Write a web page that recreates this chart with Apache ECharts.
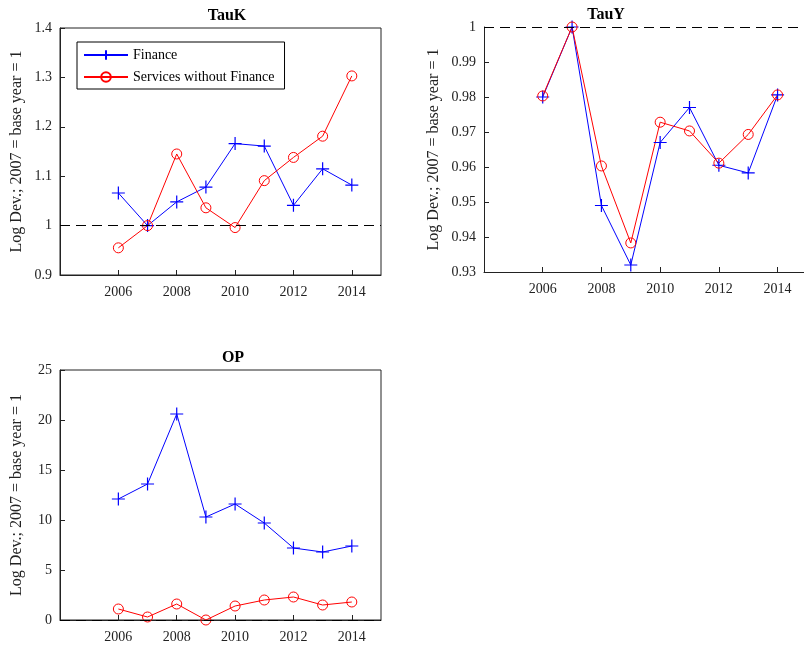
<!DOCTYPE html>
<html>
<head>
<meta charset="utf-8">
<script src="https://cdn.jsdelivr.net/npm/echarts@6/dist/echarts.min.js"></script>
<style>html,body{margin:0;padding:0;background:#fff}#chart{width:804px;height:648px}</style>
</head>
<body>
<div id="chart"></div>
<script>
var years = [2006, 2007, 2008, 2009, 2010, 2011, 2012, 2013, 2014];
// TauK
var taukFinance = [1.066, 1.0, 1.048, 1.078, 1.166, 1.161, 1.041, 1.115, 1.082];
var taukServices = [0.955, 1.0, 1.145, 1.036, 0.996, 1.091, 1.138, 1.181, 1.303];
// TauY
var tauyFinance = [0.980, 1.0, 0.949, 0.932, 0.967, 0.977, 0.9605, 0.9583, 0.9806];
var tauyServices = [0.9803, 1.0, 0.9603, 0.9383, 0.9728, 0.9703, 0.9611, 0.9693, 0.9806];
// OP
var opFinance = [12.1, 13.6, 20.6, 10.3, 11.6, 9.7, 7.2, 6.8, 7.4];
var opServices = [1.1, 0.3, 1.6, 0.0, 1.4, 2.0, 2.3, 1.5, 1.8];

var plusSym = 'path://M0,-1L0,1M-1,0L1,0';
var font = 'Liberation Serif';
var ylabel = 'Log Dev.; 2007 = base year = 1';

function pairs(v) {
    return years.map(function(y, i) { return [y, v[i]]; });
}

var grids = [
    {left: 60, top: 28, width: 321, height: 247, xmax: 2015, border: true},
    {left: 484, top: 27, width: 322, height: 245, xmax: 2014.9, border: false},
    {left: 60, top: 370, width: 321, height: 250, xmax: 2015, border: true}
];
var yRanges = [[0.9, 1.4, 0.1], [0.93, 1, 0.01], [0, 25, 5]];
var titles = ['TauK', 'TauY', 'OP'];
var titleX = [222, 601, 228];
var baseLines = [1, 1, 0];
var data = [[taukFinance, taukServices], [tauyFinance, tauyServices], [opFinance, opServices]];

var option = {
    animation: false,
    textStyle: {fontFamily: font},
    title: grids.map(function(g, i) {
        return {text: titles[i], left: titleX[i], top: g.top - 25, textAlign: 'center',
            textStyle: {fontFamily: font, fontSize: 16, fontWeight: 'bold', color: '#000'}};
    }),
    legend: {
        left: 77, top: 42, orient: 'vertical', itemGap: 8, itemWidth: 44, itemHeight: 12,
        backgroundColor: '#fff', borderColor: '#000', borderWidth: 1, padding: [6, 10, 5, 6],
        textStyle: {fontFamily: font, fontSize: 14, color: '#000'},
        data: ['Finance', 'Services without Finance']
    },
    grid: grids.map(function(g) {
        return {left: g.left, top: g.top, width: g.width, height: g.height, show: g.border, borderColor: '#222', borderWidth: 1};
    }),
    xAxis: grids.map(function(g, i) {
        return {type: 'value', gridIndex: i, min: 2004, max: g.xmax, interval: 2,
            axisLine: {lineStyle: {color: '#222'}},
            axisTick: {inside: true, length: 5, lineStyle: {color: '#222'}},
            splitLine: {show: false},
            axisLabel: {fontFamily: font, fontSize: 14, color: '#222', margin: 10, showMaxLabel: false,
                formatter: function(v) { return (v >= 2006 && v <= 2014 && v % 2 == 0) ? v : ''; }}};
    }),
    yAxis: grids.map(function(g, i) {
        var r = yRanges[i];
        return {type: 'value', gridIndex: i, min: r[0], max: r[1], interval: r[2],
            name: ylabel, nameLocation: 'middle', nameGap: i == 1 ? 42 : 35,
            nameTextStyle: {fontFamily: font, fontSize: 16, color: '#222'},
            axisLine: {show: true, lineStyle: {color: '#222'}},
            axisTick: {show: true, inside: true, length: 5, lineStyle: {color: '#222'}},
            splitLine: {show: false},
            axisLabel: {fontFamily: font, fontSize: 14, color: '#222',
                formatter: function(v) { return +v.toFixed(2); }}};
    }),
    series: []
};

data.forEach(function(d, i) {
    option.series.push({
        name: 'Finance', type: 'line', xAxisIndex: i, yAxisIndex: i, data: pairs(d[0]),
        symbol: plusSym, symbolSize: 13,
        lineStyle: {color: '#0000ff', width: 1},
        itemStyle: {color: '#0000ff', borderColor: '#0000ff', borderWidth: 1.2},
        markLine: {silent: true, symbol: 'none', label: {show: false},
            lineStyle: {color: '#000', type: [10, 6], width: 1},
            data: [{yAxis: baseLines[i]}]}
    });
    option.series.push({
        name: 'Services without Finance', type: 'line', xAxisIndex: i, yAxisIndex: i, data: pairs(d[1]),
        symbol: 'circle', symbolSize: 10,
        lineStyle: {color: '#ff0000', width: 1},
        itemStyle: {color: 'rgba(0,0,0,0)', borderColor: '#ff0000', borderWidth: 1}
    });
});

var chart = echarts.init(document.getElementById('chart'));
chart.setOption(option);
</script>
</body>
</html>
